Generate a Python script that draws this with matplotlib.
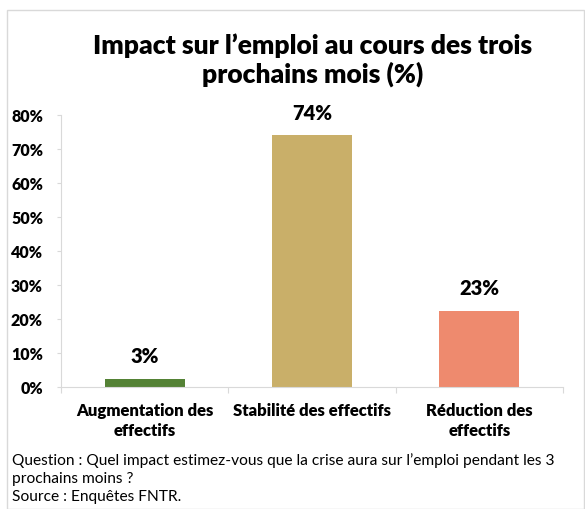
import matplotlib
matplotlib.use("Agg")
import matplotlib.pyplot as plt
from matplotlib.patches import Rectangle
from matplotlib.ticker import FuncFormatter, MultipleLocator

# data
categories = ["Augmentation des\neffectifs", "Stabilité des effectifs", "Réduction des\neffectifs"]
values = [2.3, 74.0, 22.3]
value_labels = ["3%", "74%", "23%"]
colors = ["#548235", "#C9AF69", "#EE8A6E"]

title = "Impact sur l\u2019emploi au cours des trois\nprochains mois (%)"
note = ("Question : Quel impact estimez-vous que la crise aura sur l\u2019emploi pendant les 3\n"
        "prochains moins ?\nSource : Enquêtes FNTR.")

plt.rcParams['font.family'] = ['Lato', 'DejaVu Sans']
BOLD = "heavy"

fig = plt.figure(figsize=(5.85, 5.10), dpi=100)
fig.patches.append(Rectangle((7 / 585, 0), 577 / 585, 499 / 510, transform=fig.transFigure,
                             fill=False, edgecolor="#d9d9d9", linewidth=1))

ax = fig.add_axes([61 / 585, 122 / 510, 502 / 585, 272 / 510])
x = range(len(categories))
ax.bar(x, values, width=0.48, color=colors)
for xi, v, lab in zip(x, values, value_labels):
    ax.annotate(lab, (xi, v), xytext=(0, 10), textcoords="offset points",
                ha="center", va="bottom", fontsize=14.5, fontweight=BOLD)

ax.set_xlim(-0.5, 2.5)
ax.set_ylim(0, 80)
ax.yaxis.set_major_locator(MultipleLocator(10))
ax.yaxis.set_major_formatter(FuncFormatter(lambda v, p: f"{v:.0f}%"))
ax.set_xticks([-0.5, 0.5, 1.5, 2.5])
ax.set_xticklabels([])
ax.tick_params(axis="x", length=4, color="#d9d9d9")
ax.tick_params(axis="y", length=3, color="#d9d9d9", labelsize=11.5, pad=10)
for lab in ax.get_yticklabels():
    lab.set_fontweight(BOLD)
for xi, cat in zip(x, categories):
    ax.text(xi, -4.3, cat, ha="center", va="top", fontsize=12, fontweight=BOLD,
            linespacing=1.3)

for s in ["top", "right"]:
    ax.spines[s].set_visible(False)
for s in ["left", "bottom"]:
    ax.spines[s].set_color("#d9d9d9")

fig.text(313 / 585, 1 - 33 / 510, title, ha="center", va="top", fontsize=19,
         fontweight=BOLD, linespacing=1.2)
fig.text(12 / 585, 1 - 453 / 510, note, ha="left", va="top", fontsize=11.2, linespacing=1.36)

fig.savefig("out.png", dpi=100)
